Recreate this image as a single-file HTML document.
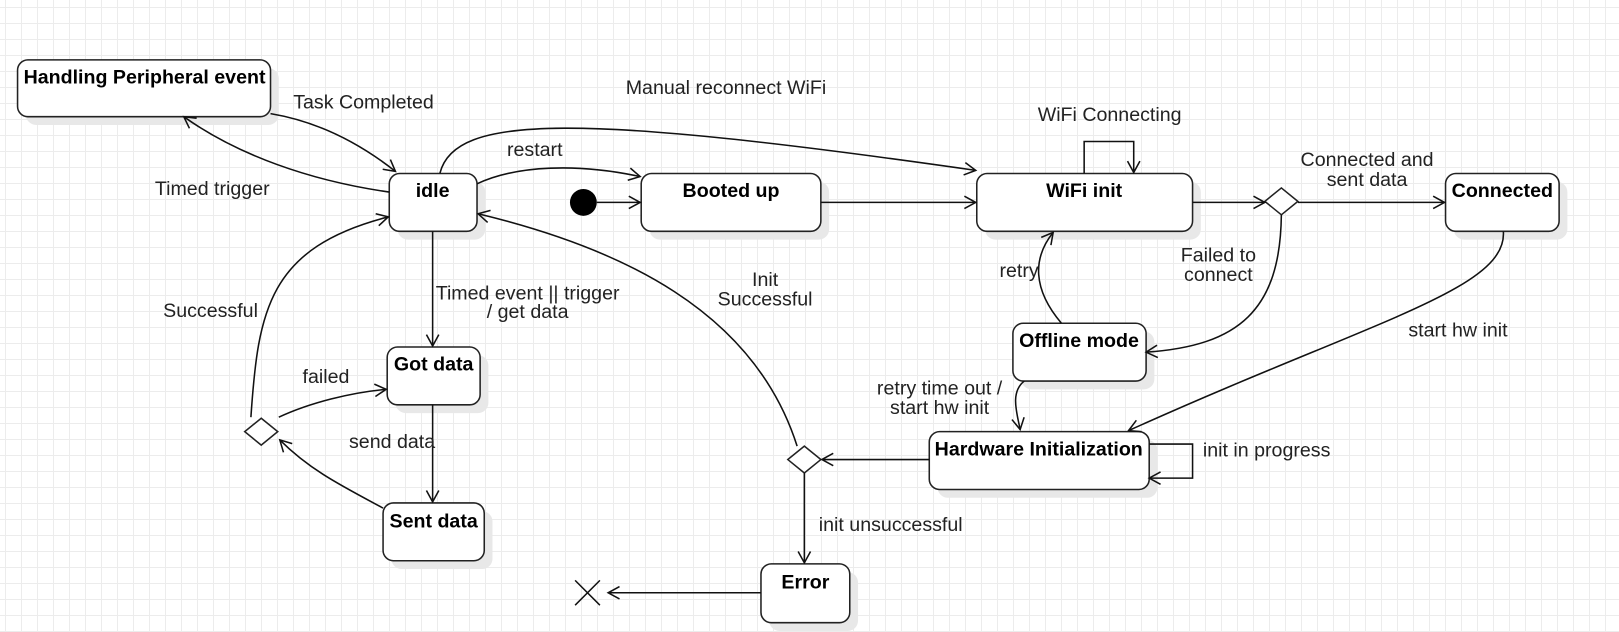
<!DOCTYPE html>
<html><head><style>
body{margin:0;width:1619px;height:632px;overflow:hidden;background:#fff;
background-image:linear-gradient(#ececec 1px,transparent 1px),linear-gradient(90deg,#ececec 1px,transparent 1px);
background-size:16px 16px;background-position:5px 7px;font-family:"Liberation Sans",sans-serif}
svg{position:absolute;left:0;top:0}
text{font-family:"Liberation Sans",sans-serif;font-size:19px;fill:#222}
.b{font-weight:bold;fill:#000}
.n{fill:#fff;stroke:#222;stroke-width:1.5}
.s{fill:#e8e8e8;stroke:none}
.e{fill:none;stroke:#111;stroke-width:1.5}
</style></head><body>
<svg width="1619" height="632" viewBox="0 0 1568 612" preserveAspectRatio="none">
<defs><marker id="a" markerWidth="14" markerHeight="14" refX="12" refY="7" orient="auto" markerUnits="userSpaceOnUse">
<path d="M1,1 L12,7 L1,13" fill="none" stroke="#111" stroke-width="1.5"/></marker></defs>
<g class="s">
<rect x="25" y="66" width="245" height="55" rx="10"/><rect x="385" y="176" width="85" height="56" rx="10"/>
<rect x="629" y="176" width="174" height="56" rx="10"/><rect x="954" y="176" width="209" height="56" rx="10"/>
<rect x="1408" y="176" width="110" height="56" rx="10"/><rect x="989" y="321" width="129" height="56" rx="10"/>
<rect x="908" y="426" width="213" height="56" rx="10"/><rect x="745" y="554" width="86" height="57" rx="10"/>
<rect x="383" y="344" width="90" height="56" rx="10"/><rect x="379" y="495" width="98" height="56" rx="10"/>
</g>
<g class="n">
<rect x="17" y="58" width="245" height="55" rx="10"/><rect x="377" y="168" width="85" height="56" rx="10"/>
<rect x="621" y="168" width="174" height="56" rx="10"/><rect x="946" y="168" width="209" height="56" rx="10"/>
<rect x="1400" y="168" width="110" height="56" rx="10"/><rect x="981" y="313" width="129" height="56" rx="10"/>
<rect x="900" y="418" width="213" height="56" rx="10"/><rect x="737" y="546" width="86" height="57" rx="10"/>
<rect x="375" y="336" width="90" height="56" rx="10"/><rect x="371" y="487" width="98" height="56" rx="10"/>
<path d="M1241,182 L1257,195 L1241,208 L1225,195Z"/><path d="M779,432 L795,445 L779,458 L763,445Z"/>
<path d="M253,405 L269,418 L253,431 L237,418Z"/>
</g>
<circle cx="565" cy="196" r="13" fill="#000"/>
<path d="M557,562 L581,586 M581,562 L557,586" stroke="#111" stroke-width="1.5"/>
<g class="e" marker-end="url(#a)">
<path d="M262,110 C310,118 350,140 383,166"/>
<path d="M377,186 C300,175 230,150 178,113"/>
<path d="M426,168 C440,110 560,110 945,165"/>
<path d="M462,178 C500,160 560,158 620,171"/>
<path d="M578,196 L620,196"/><path d="M795,196 L945,196"/>
<path d="M1050,168 L1050,137 L1098,137 L1098,167"/>
<path d="M1155,196 L1225,196"/><path d="M1257,196 L1399,196"/>
<path d="M1241,208 C1240,300 1200,335 1110,341"/>
<path d="M1028,313 C1000,280 1000,250 1020,225"/>
<path d="M1456,224 C1460,280 1330,310 1093,417"/>
<path d="M992,369 C978,380 985,400 988,416"/>
<path d="M1113,430 L1155,430 L1155,463 L1113,463"/>
<path d="M900,445 L796,445"/>
<path d="M779,458 L779,545"/>
<path d="M737,574 L589,574"/>
<path d="M772,432 C730,300 600,240 463,207"/>
<path d="M419,224 L419,335"/><path d="M419,392 L419,486"/>
<path d="M371,492 C330,470 300,455 271,426"/>
<path d="M270,404 C300,390 340,380 374,377"/>
<path d="M243,404 C250,300 260,240 376,210"/>
</g>
<g class="b"><text x="140" y="81" text-anchor="middle" class="b">Handling Peripheral event</text>
<text x="419" y="191" text-anchor="middle" class="b">idle</text>
<text x="708" y="191" text-anchor="middle" class="b">Booted up</text>
<text x="1050" y="191" text-anchor="middle" class="b">WiFi init</text>
<text x="1455" y="191" text-anchor="middle" class="b">Connected</text>
<text x="1045" y="336" text-anchor="middle" class="b">Offline mode</text>
<text x="1006" y="441" text-anchor="middle" class="b">Hardware Initialization</text>
<text x="780" y="570" text-anchor="middle" class="b">Error</text>
<text x="420" y="359" text-anchor="middle" class="b">Got data</text>
<text x="420" y="511" text-anchor="middle" class="b">Sent data</text></g>
<text x="284" y="105">Task Completed</text>
<text x="150" y="189">Timed trigger</text>
<text x="606" y="91">Manual reconnect WiFi</text>
<text x="491" y="151">restart</text>
<text x="1005" y="117">WiFi Connecting</text>
<text x="1324" y="161" text-anchor="middle">Connected and</text>
<text x="1324" y="180" text-anchor="middle">sent data</text>
<text x="1180" y="253" text-anchor="middle">Failed to</text>
<text x="1180" y="272" text-anchor="middle">connect</text>
<text x="968" y="268">retry</text>
<text x="1364" y="326">start hw init</text>
<text x="910" y="382" text-anchor="middle">retry time out /</text>
<text x="910" y="401" text-anchor="middle">start hw init</text>
<text x="1165" y="442">init in progress</text>
<text x="793" y="514">init unsuccessful</text>
<text x="741" y="277" text-anchor="middle">Init</text>
<text x="741" y="296" text-anchor="middle">Successful</text>
<text x="511" y="290" text-anchor="middle">Timed event || trigger</text>
<text x="511" y="308" text-anchor="middle">/ get data</text>
<text x="158" y="307">Successful</text>
<text x="293" y="371">failed</text>
<text x="338" y="434">send data</text>
</svg>
</body></html>
